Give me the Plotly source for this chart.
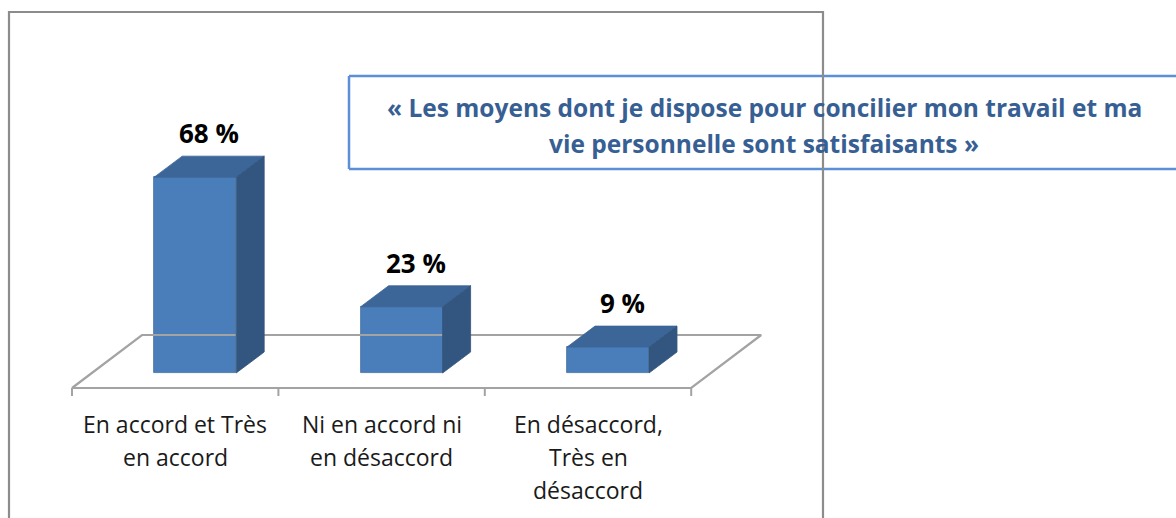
import plotly.graph_objects as go

# ---------------- data ----------------
categories = ["En accord et Très<br>en accord",
              "Ni en accord ni<br>en désaccord",
              "En désaccord,<br>Très en<br>désaccord"]
values = [68, 23, 9]
value_labels = ["68 %", "23 %", "9 %"]
title_lines = ["« Les moyens dont je dispose pour concilier mon travail et ma",
               "vie personnelle sont satisfaisants »"]

# ---------------- geometry / style ----------------
W, H = 1176, 518
PX_PER_CAT = 206.4      # pixels per category step
X0_PX = 72              # pixel x of the floor's front-left corner (category -0.5)
PX_PER_PCT = 2.88       # pixels per percent
Y0_PX = 373             # pixel y of the bars' base (value 0)

def dxu(px):
    return px / PX_PER_CAT

def dyu(px):
    return px / PX_PER_PCT

x_range = [-0.5 - dxu(X0_PX), -0.5 + dxu(W - X0_PX)]
y_range = [-dyu(H - Y0_PX), dyu(Y0_PX)]

BAR_SHIFT = dxu(20)     # bars sit slightly back in the floor
BAR_W = dxu(82)
DEPTH_X, DEPTH_Y = dxu(28), dyu(21)
FLOOR_FRONT_Y = -dyu(15)
FLOOR_DX, FLOOR_DY = dxu(70), dyu(53)
TICK_LEN = dyu(8)

FRONT = "#4A7EBB"
TOP = "#3D6698"
SIDE = "#32567F"
GRID = "#A3A3A3"
FONT = "Open Sans"

n = len(categories)
fig = go.Figure()

# floor
x_left, x_right = -0.5, n - 0.5
fy0, fy1 = FLOOR_FRONT_Y, FLOOR_FRONT_Y + FLOOR_DY
fig.add_trace(go.Scatter(
    x=[x_left, x_right, x_right + FLOOR_DX, x_left + FLOOR_DX, x_left],
    y=[fy0, fy0, fy1, fy1, fy0],
    mode="lines", line=dict(color=GRID, width=2.2), hoverinfo="skip", showlegend=False))
# ticks on front edge
tx, ty = [], []
for k in range(n + 1):
    tx += [k - 0.5, k - 0.5, None]
    ty += [fy0, fy0 - TICK_LEN, None]
fig.add_trace(go.Scatter(x=tx, y=ty, mode="lines", line=dict(color=GRID, width=2),
                         hoverinfo="skip", showlegend=False))

# bars: front faces
centers = [i + BAR_SHIFT for i in range(n)]
fig.add_trace(go.Bar(x=centers, y=values, width=BAR_W, base=0,
                     marker=dict(color=FRONT, line=dict(color="#42709F", width=0.8)),
                     hoverinfo="skip", showlegend=False))

# bars: top and side faces
for c, v in zip(centers, values):
    xl, xr = c - BAR_W / 2, c + BAR_W / 2
    fig.add_trace(go.Scatter(
        x=[xl, xr, xr + DEPTH_X, xl + DEPTH_X, xl],
        y=[v, v, v + DEPTH_Y, v + DEPTH_Y, v],
        fill="toself", fillcolor=TOP, mode="lines", line=dict(color=TOP, width=0.8),
        hoverinfo="skip", showlegend=False))
    fig.add_trace(go.Scatter(
        x=[xr, xr + DEPTH_X, xr + DEPTH_X, xr, xr],
        y=[0, DEPTH_Y, v + DEPTH_Y, v, 0],
        fill="toself", fillcolor=SIDE, mode="lines", line=dict(color=SIDE, width=0.8),
        hoverinfo="skip", showlegend=False))

annotations = []
# value labels
for c, v, lab in zip(centers, values, value_labels):
    annotations.append(dict(x=c + DEPTH_X / 2, y=v + DEPTH_Y, xref="x", yref="y",
                            text="<b>" + lab + "</b>", showarrow=False, yshift=23,
                            yanchor="middle",
                            font=dict(family=FONT, size=26, color="#000000")))
# category labels (one annotation per line for exact spacing)
for i, cat in enumerate(categories):
    for k, line in enumerate(cat.split("<br>")):
        annotations.append(dict(x=i, y=1 - (424 + 33 * k) / H, xref="x", yref="paper",
                                text=line, showarrow=False, yanchor="middle",
                                font=dict(family=FONT, size=23, color="#1A1A1A")))
# title box text
for k, line in enumerate(title_lines):
    annotations.append(dict(x=764 / W, y=1 - (107 + 36 * k) / H, xref="paper", yref="paper",
                            text="<b>" + line + "</b>", showarrow=False, yanchor="middle",
                            font=dict(family=FONT, size=24.5, color="#375F93")))

bx0, by0, by1 = 349 / W, 1 - 169 / H, 1 - 76 / H
box_line = dict(color="#5B8FD6", width=2.5)
shapes = [
    # title box: top, left, bottom (it runs off the page on the right)
    dict(type="line", xref="paper", yref="paper", x0=bx0, x1=1.0, y0=by1, y1=by1,
         line=box_line, layer="above"),
    dict(type="line", xref="paper", yref="paper", x0=bx0, x1=bx0, y0=by0, y1=by1,
         line=box_line, layer="above"),
    dict(type="line", xref="paper", yref="paper", x0=bx0, x1=1.0, y0=by0, y1=by0,
         line=box_line, layer="above"),
    # chart area border
    dict(type="path", xref="paper", yref="paper",
         path=f"M {9/W},{-0.05} L {9/W},{1-12/H} L {823/W},{1-12/H} L {823/W},{-0.05}",
         line=dict(color="#8C8C8C", width=2.2), layer="above"),
]

fig.update_layout(
    width=W, height=H, autosize=False,
    margin=dict(l=0, r=0, t=0, b=0),
    paper_bgcolor="white", plot_bgcolor="white",
    xaxis=dict(range=x_range, visible=False, fixedrange=True),
    yaxis=dict(range=y_range, visible=False, fixedrange=True),
    annotations=annotations, shapes=shapes,
    bargap=0,
)

fig.write_html("out.html", config={"displayModeBar": False},
               post_script="document.body.style.margin='0px';document.body.style.overflow='hidden';")
